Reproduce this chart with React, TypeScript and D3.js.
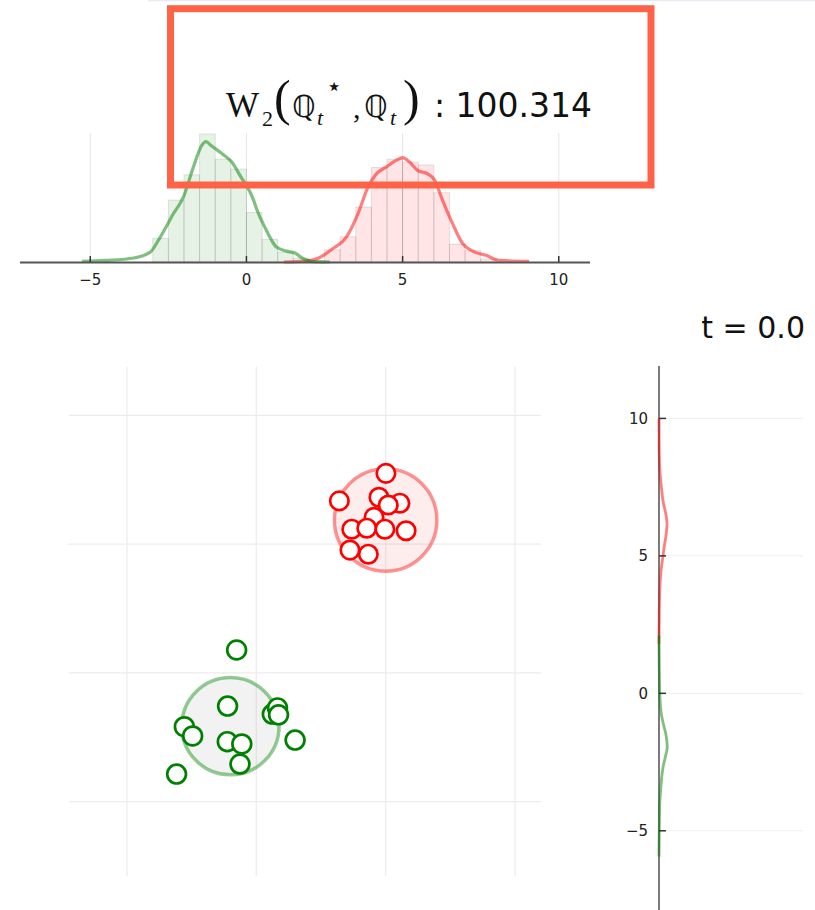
import React from "react";
import * as d3 from "d3";

const W = 815;
const H = 910;

// ---- top histogram (x marginal of target samples) ----
const binWidth = 0.5;
const greenBinStarts = [-3, -2.5, -2, -1.5, -1, -0.5, 0, 0.5, 1, 1.5, 2];
const greenBinDensity = [0.074, 0.194, 0.273, 0.401, 0.322, 0.291, 0.155, 0.071, 0.031, 0.012, 0.004];
const redBinStarts = [2.5, 3, 3.5, 4, 4.5, 5, 5.5, 6, 6.5, 7, 7.5];
const redBinDensity = [0.038, 0.079, 0.172, 0.296, 0.322, 0.313, 0.304, 0.217, 0.056, 0.036, 0.009];

const greenKdeX = [-5.27, -4.5, -3.6, -3.08, -2.76, -2.34, -2.02, -1.7, -1.43, -1.3, -1.11, -0.79, -0.47, -0.15, 0.0, 0.22, 0.33, 0.64, 0.96, 1.28, 1.55, 1.81, 2.13, 2.67];
const greenKdeY = [0.002, 0.005, 0.0125, 0.031, 0.078, 0.151, 0.203, 0.297, 0.365, 0.377, 0.363, 0.34, 0.313, 0.262, 0.24, 0.196, 0.165, 0.099, 0.047, 0.034, 0.028, 0.011, 0.001, 0.0];
const redKdeX = [1.2, 1.9, 2.3, 2.77, 3.2, 3.57, 3.89, 4.16, 4.47, 4.79, 5.0, 5.22, 5.48, 5.8, 6.02, 6.28, 6.6, 6.92, 7.24, 7.67, 8.09, 9.05];
const redKdeY = [0.0, 0.003, 0.012, 0.042, 0.078, 0.151, 0.234, 0.276, 0.297, 0.318, 0.327, 0.313, 0.287, 0.276, 0.257, 0.193, 0.12, 0.058, 0.034, 0.021, 0.005, 0.002];

const xTicks = [-5, 0, 5, 10];
const yTicks = [10, 5, 0, -5];

// ---- main scatter ----
const redPtsX = [5.01, 3.21, 4.74, 5.55, 4.55, 5.1, 3.69, 4.27, 4.97, 5.79, 3.62, 4.33];
const redPtsY = [7.75, 6.68, 6.82, 6.59, 6.04, 6.52, 5.58, 5.62, 5.58, 5.52, 4.77, 4.61];
const greenPtsX = [-0.76, -1.11, 0.62, 0.82, 0.86, -2.78, -2.46, -1.12, -0.56, 1.5, -0.63, -3.08];
const greenPtsY = [0.89, -1.29, -1.6, -1.36, -1.63, -2.09, -2.45, -2.67, -2.76, -2.61, -3.54, -3.93];

const blobCenterX = [5.0, -1.0];
const blobCenterY = [5.94, -2.07];
const blobRadius = [1.98, 1.88];

// ---- right marginal (y KDE) ----
const redMargY = [10.0, 9.0, 8.0, 7.5, 7.0, 6.5, 6.2, 5.8, 5.3, 5.0, 4.5, 4.0, 3.0, 1.8];
const redMargD = [0.0, 0.005, 0.04, 0.09, 0.15, 0.26, 0.3, 0.27, 0.19, 0.15, 0.08, 0.04, 0.01, 0.0];
const greenMargY = [2.1, 1.0, 0.0, -0.7, -1.1, -1.5, -1.95, -2.3, -2.7, -3.4, -3.9, -5.0, -5.94];
const greenMargD = [0.0, 0.01, 0.03, 0.08, 0.16, 0.26, 0.31, 0.24, 0.15, 0.07, 0.035, 0.01, 0.0];

const titleValue = "100.314";
const timeLabel = "t = 0.0";

export default function App() {
  const xTop = d3.scaleLinear().domain([-7.25, 11]).range([20, 590]);
  const yTop = d3.scaleLinear().domain([0, 0.404]).range([262, 133]);

  const xMain = d3.scaleLinear().domain([-7.25, 11]).range([68.7, 540.9]);
  const yMain = d3.scaleLinear().domain([-7.9, 11.9]).range([876.3, 366.5]);

  const yMarg = d3.scaleLinear().domain([-7.9, 11.9]).range([910.5, 366.2]);
  const xMarg = d3.scaleLinear().domain([0, 5.4]).range([659, 803]);

  const fmt = d3.format("d");

  const kdeLine = d3
    .line<[number, number]>()
    .x((d) => xTop(d[0]))
    .y((d) => yTop(d[1]))
    .curve(d3.curveMonotoneX);
  const margLine = d3
    .line<[number, number]>()
    .x((d) => xMarg(d[1]))
    .y((d) => yMarg(d[0]))
    .curve(d3.curveMonotoneY);

  const greenKde = greenKdeX.map((x, i) => [x, greenKdeY[i]] as [number, number]);
  const redKde = redKdeX.map((x, i) => [x, redKdeY[i]] as [number, number]);
  const redMarg = redMargY.map((y, i) => [y, redMargD[i]] as [number, number]);
  const greenMarg = greenMargY.map((y, i) => [y, greenMargD[i]] as [number, number]);

  const sans = "'DejaVu Sans', sans-serif";
  const serif = "'Liberation Serif', 'DejaVu Serif', serif";
  const kx = xMain(1) - xMain(0);

  return (
    <svg
      width={W}
      height={H}
      style={{ position: "absolute", left: 0, top: 0, background: "#fff" }}
      xmlns="http://www.w3.org/2000/svg"
    >
      <rect x={0} y={0} width={W} height={H} fill="#fff" />
      <line x1={148} x2={W} y1={0.5} y2={0.5} stroke="#e9ebf2" strokeWidth={1.5} />

      {/* ===== top histogram ===== */}
      {xTicks.map((t) => (
        <line key={"tg" + t} x1={xTop(t)} x2={xTop(t)} y1={133} y2={262} stroke="#e6e6e6" strokeWidth={1} />
      ))}
      {greenBinStarts.map((s, i) => (
        <rect
          key={"gb" + i}
          x={xTop(s)}
          y={yTop(greenBinDensity[i])}
          width={xTop(s + binWidth) - xTop(s)}
          height={yTop(0) - yTop(greenBinDensity[i])}
          fill="rgba(0,128,0,0.1)"
          stroke="rgba(0,0,0,0.1)"
          strokeWidth={1}
        />
      ))}
      {redBinStarts.map((s, i) => (
        <rect
          key={"rb" + i}
          x={xTop(s)}
          y={yTop(redBinDensity[i])}
          width={xTop(s + binWidth) - xTop(s)}
          height={yTop(0) - yTop(redBinDensity[i])}
          fill="rgba(255,0,0,0.1)"
          stroke="rgba(0,0,0,0.1)"
          strokeWidth={1}
        />
      ))}
      <path d={kdeLine(redKde) || ""} fill="none" stroke="rgba(255,0,0,0.5)" strokeWidth={3.2} strokeLinejoin="round" />
      <path d={kdeLine(greenKde) || ""} fill="none" stroke="rgba(0,128,0,0.5)" strokeWidth={3.2} strokeLinejoin="round" />
      <line x1={20} x2={590} y1={262.5} y2={262.5} stroke="#555" strokeWidth={1.8} />
      {xTicks.map((t) => (
        <g key={"tt" + t}>
          <line x1={xTop(t)} x2={xTop(t)} y1={262} y2={256} stroke="#333" strokeWidth={1.5} />
          <text x={xTop(t)} y={285} textAnchor="middle" fontFamily={sans} fontSize={15} fill="#222">
            {fmt(t)}
          </text>
        </g>
      ))}

      {/* ===== main scatter ===== */}
      {xTicks.map((t) => (
        <line key={"mvx" + t} x1={xMain(t)} x2={xMain(t)} y1={366.5} y2={876.3} stroke="#ececec" strokeWidth={1.2} />
      ))}
      {yTicks.map((t) => (
        <line key={"mhy" + t} x1={68.7} x2={540.9} y1={yMain(t)} y2={yMain(t)} stroke="#ececec" strokeWidth={1.2} />
      ))}
      <circle
        cx={xMain(blobCenterX[0])}
        cy={yMain(blobCenterY[0])}
        r={blobRadius[0] * kx}
        fill="rgba(240,60,60,0.09)"
        stroke="rgba(255,0,0,0.42)"
        strokeWidth={3.5}
      />
      <circle
        cx={xMain(blobCenterX[1])}
        cy={yMain(blobCenterY[1])}
        r={blobRadius[1] * kx}
        fill="rgba(120,130,120,0.1)"
        stroke="rgba(0,128,0,0.42)"
        strokeWidth={3.5}
      />
      {redPtsX.map((x, i) => (
        <circle key={"rp" + i} cx={xMain(x)} cy={yMain(redPtsY[i])} r={9.2} fill="#fff" stroke="#ff0000" strokeWidth={2.7} />
      ))}
      {greenPtsX.map((x, i) => (
        <circle key={"gp" + i} cx={xMain(x)} cy={yMain(greenPtsY[i])} r={9.4} fill="#fff" stroke="#008000" strokeWidth={2.7} />
      ))}

      {/* ===== right marginal ===== */}
      {yTicks.map((t) => (
        <line key={"rg" + t} x1={659} x2={803} y1={yMarg(t)} y2={yMarg(t)} stroke="#efefef" strokeWidth={1} />
      ))}
      <line x1={659} x2={659} y1={366} y2={H} stroke="#333" strokeWidth={1.3} />
      <path d={margLine(redMarg) || ""} fill="none" stroke="rgba(255,0,0,0.5)" strokeWidth={2.8} />
      <path d={margLine(greenMarg) || ""} fill="none" stroke="rgba(0,128,0,0.5)" strokeWidth={2.8} />
      {yTicks.map((t) => (
        <g key={"rt" + t}>
          <line x1={659} x2={666} y1={yMarg(t)} y2={yMarg(t)} stroke="#333" strokeWidth={1.5} />
          <text x={648} y={yMarg(t)} dy="0.36em" textAnchor="end" fontFamily={sans} fontSize={15} fill="#222">
            {fmt(t)}
          </text>
        </g>
      ))}
      <text x={805} y={338} textAnchor="end" fontFamily={sans} fontSize={30} fill="#111">
        {timeLabel}
      </text>

      {/* ===== title ===== */}
      <g fill="#111">
        <text x={226} y={117} fontFamily={serif} fontSize={35}>W</text>
        <text x={262} y={126} fontFamily={serif} fontSize={22}>2</text>
        <text x={274} y={115} fontFamily={serif} fontSize={50} fontWeight={300}>(</text>
        <text x={292} y={117} fontFamily={sans} fontSize={30}>ℚ</text>
        <text x={317} y={125} fontFamily={serif} fontSize={22} fontStyle="italic">t</text>
        <text x={326} y={95} fontFamily={sans} fontSize={26}>⋆</text>
        <text x={353} y={118} fontFamily={serif} fontSize={30}>,</text>
        <text x={364} y={117} fontFamily={sans} fontSize={30}>ℚ</text>
        <text x={390} y={125} fontFamily={serif} fontSize={22} fontStyle="italic">t</text>
        <text x={403} y={115} fontFamily={serif} fontSize={50} fontWeight={300}>)</text>
        <text x={434} y={117} fontFamily={sans} fontSize={33}>{": " + titleValue}</text>
      </g>

      {/* annotation box */}
      <rect x={170.5} y={8.7} width={480.5} height={176.3} fill="none" stroke="#ff6347" strokeWidth={7} />
    </svg>
  );
}
